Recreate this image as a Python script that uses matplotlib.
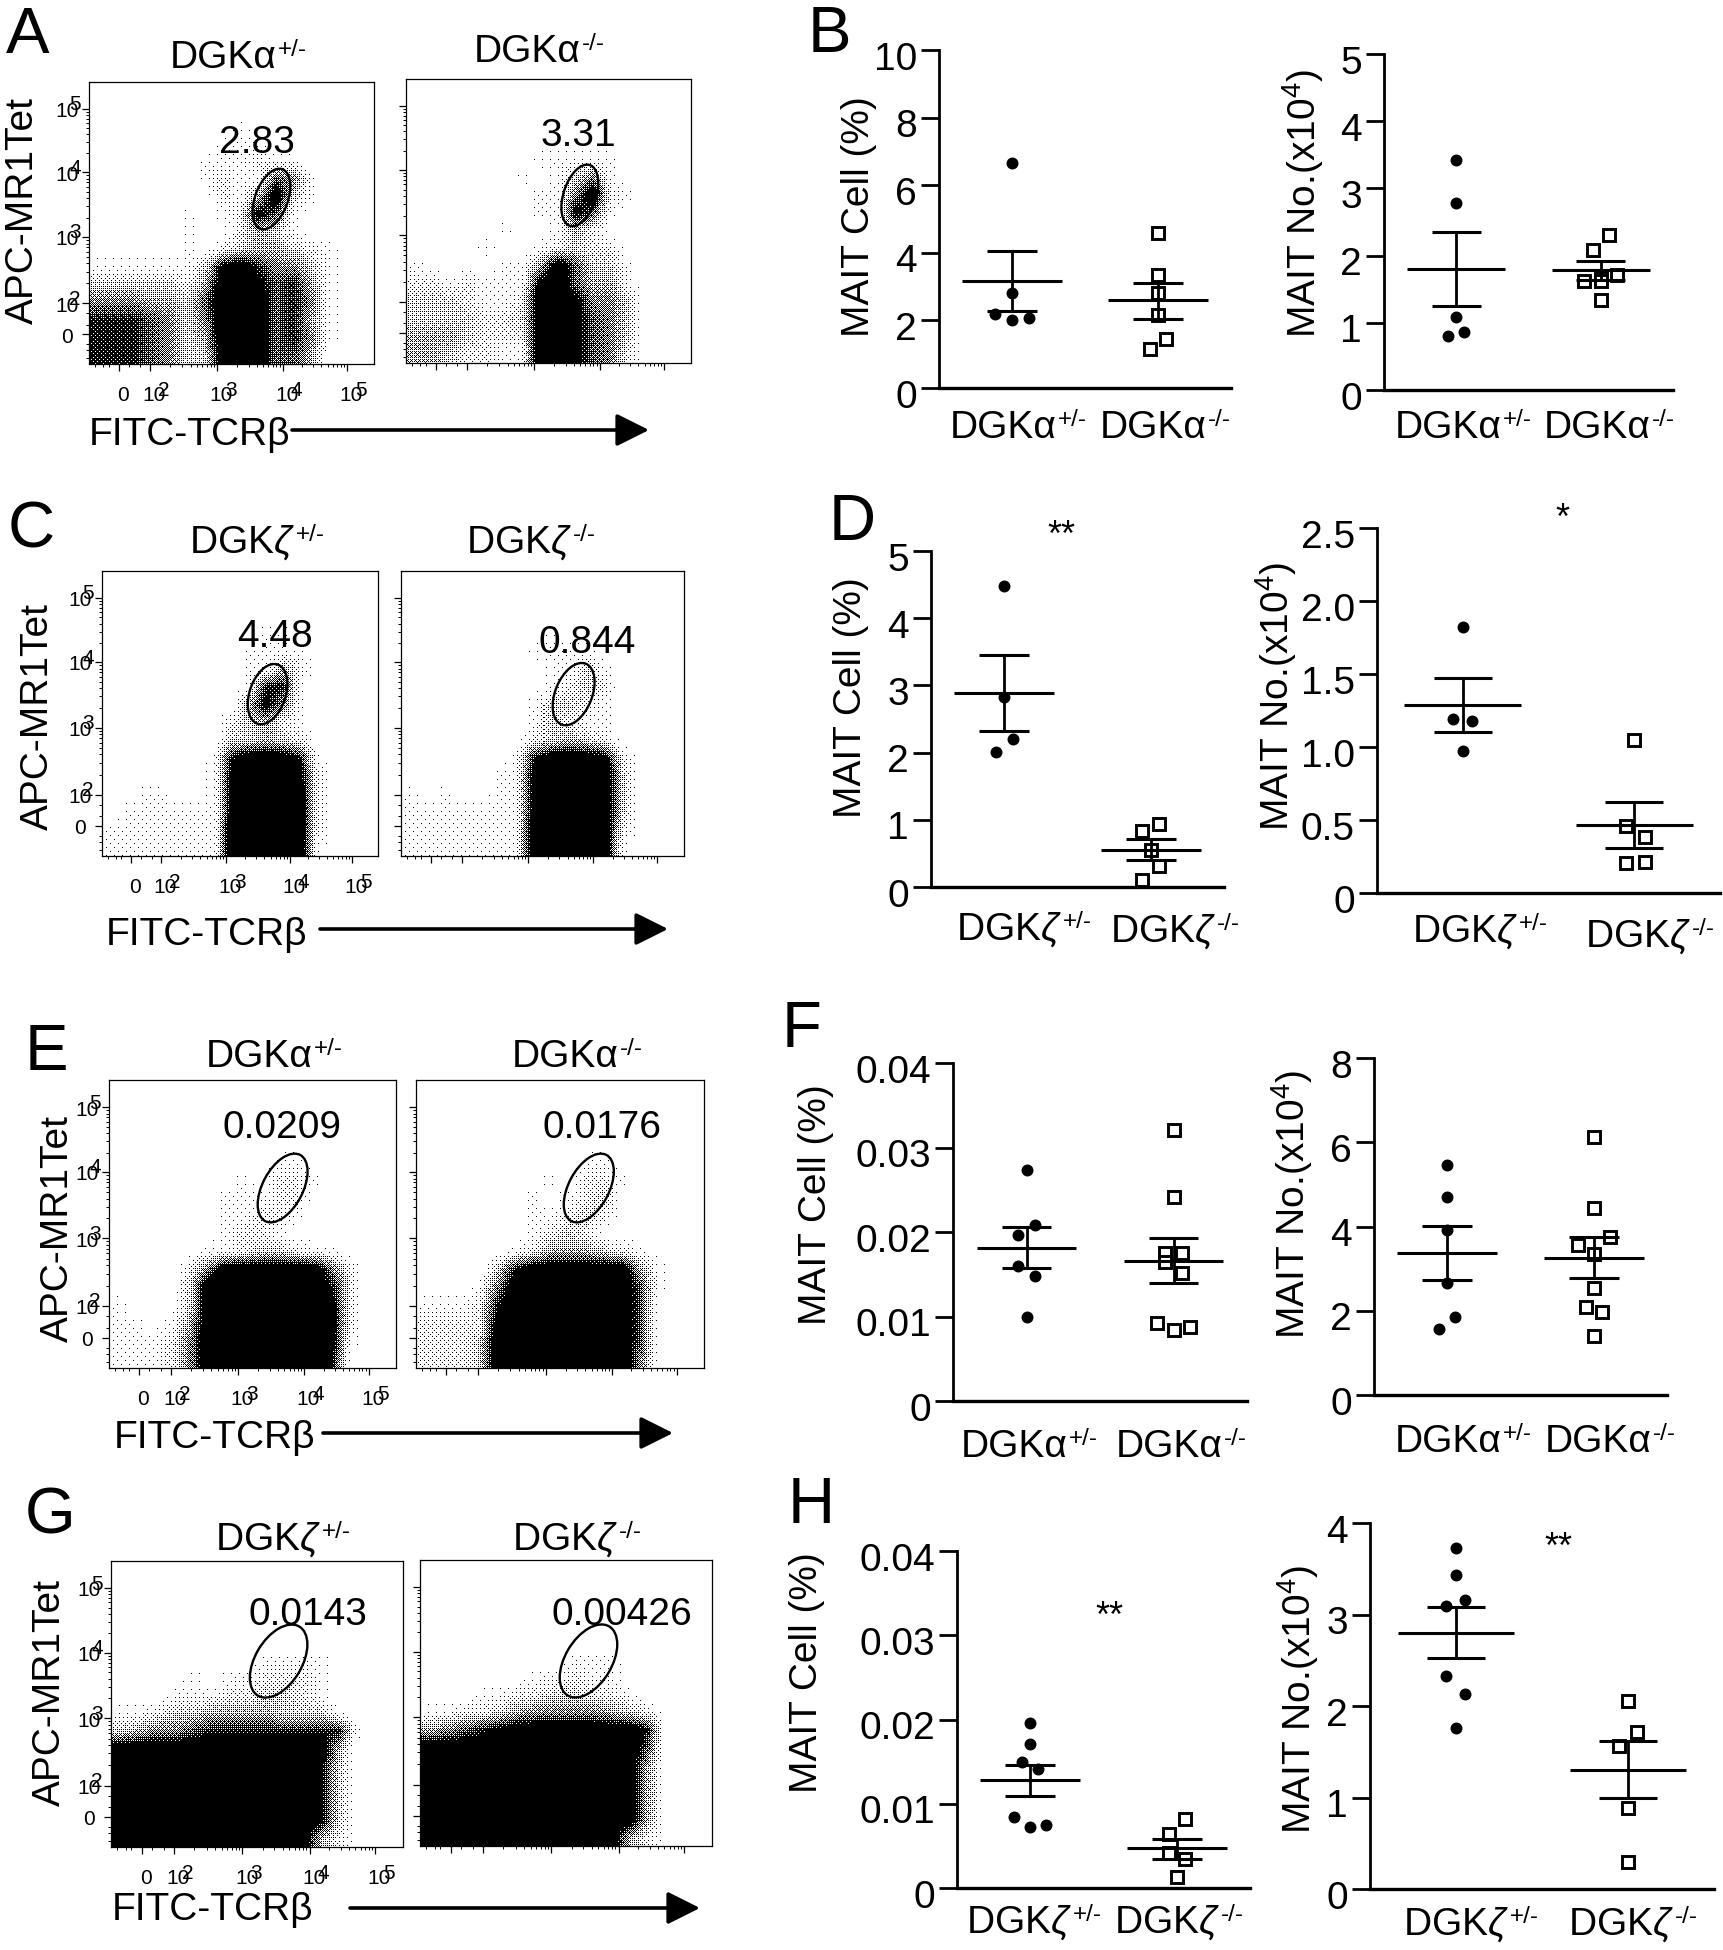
import numpy as np
import matplotlib
matplotlib.use('Agg')
import matplotlib.pyplot as plt
from matplotlib.patches import Ellipse
from matplotlib.transforms import ScaledTranslation

W, H = 1723, 1950
plt.rcParams['font.family'] = ['Liberation Sans', 'DejaVu Sans']
plt.rcParams['mathtext.fontset'] = 'custom'
plt.rcParams['mathtext.rm'] = 'Liberation Sans'
plt.rcParams['mathtext.it'] = 'Liberation Sans:italic'
plt.rcParams['mathtext.default'] = 'regular'

# dot plots
B_PCT_HET = [6.66, 2.82, 2.18, 2.0, 2.07]
B_PCT_HET_DX = [0, 0, -0.114, 0, 0.114]
B_PCT_KO = [4.6, 3.33, 2.82, 2.15, 1.45, 1.15]
B_PCT_KO_DX = [0, 0, 0, 0, 0.057, -0.057]
B_PCT_MEAN = [3.16, 2.59]
B_PCT_UPPER = [4.04, 3.1]
B_PCT_LOWER = [2.27, 2.05]

B_NO_HET = [3.42, 2.78, 1.08, 0.86, 0.81]
B_NO_HET_DX = [0, 0, 0, 0.057, -0.057]
B_NO_KO = [2.30, 2.09, 1.71, 1.66, 1.62, 1.62, 1.34]
B_NO_KO_DX = [0.057, -0.057, 0.114, 0, -0.114, 0, 0]
B_NO_MEAN = [1.80, 1.79]
B_NO_UPPER = [2.35, 1.92]
B_NO_LOWER = [1.25, 1.64]

D_PCT_HET = [4.475, 2.82, 2.2, 2.01]
D_PCT_HET_DX = [0, 0, 0.057, -0.057]
D_PCT_KO = [0.94, 0.84, 0.545, 0.31, 0.11]
D_PCT_KO_DX = [0.057, -0.057, 0, 0.057, -0.057]
D_PCT_MEAN = [2.88, 0.545]
D_PCT_UPPER = [3.45, 0.71]
D_PCT_LOWER = [2.32, 0.40]

D_NO_HET = [1.82, 1.19, 1.175, 0.97]
D_NO_HET_DX = [0, -0.055, 0.055, 0]
D_NO_KO = [1.05, 0.46, 0.385, 0.215, 0.205]
D_NO_KO_DX = [0, -0.05, 0.06, 0.06, -0.05]
D_NO_MEAN = [1.29, 0.465]
D_NO_UPPER = [1.47, 0.62]
D_NO_LOWER = [1.105, 0.31]

F_PCT_HET = [0.0273, 0.0208, 0.01965, 0.016, 0.0148, 0.00994]
F_PCT_HET_DX = [0, 0.056, -0.056, -0.056, 0.056, 0]
F_PCT_KO = [0.0321, 0.0242, 0.01755, 0.01755, 0.0165, 0.0151, 0.0092, 0.0084, 0.00875]
F_PCT_KO_DX = [0, 0, -0.056, 0.056, -0.056, 0.056, -0.11, 0, 0.11]
F_PCT_MEAN = [0.0181, 0.0166]
F_PCT_UPPER = [0.02055, 0.0193]
F_PCT_LOWER = [0.0157, 0.014]

F_NO_HET = [5.47, 4.71, 3.92, 2.67, 1.86, 1.565]
F_NO_HET_DX = [0, 0, 0, 0, 0.056, -0.056]
F_NO_KO = [6.12, 4.44, 3.75, 3.565, 3.34, 2.53, 2.10, 1.98, 1.41]
F_NO_KO_DX = [0, 0, 0.11, -0.11, 0, 0, -0.056, 0.056, 0]
F_NO_MEAN = [3.37, 3.25]
F_NO_UPPER = [4.02, 3.74]
F_NO_LOWER = [2.73, 2.77]

H_PCT_HET = [0.01957, 0.0171, 0.0149, 0.0141, 0.00846, 0.00727, 0.0075]
H_PCT_HET_DX = [0, 0, -0.056, 0.056, -0.11, 0, 0.11]
H_PCT_KO = [0.0082, 0.00636, 0.0042, 0.00344, 0.00126]
H_PCT_KO_DX = [0.056, -0.056, -0.056, 0.056, 0]
H_PCT_MEAN = [0.01277, 0.0047]
H_PCT_UPPER = [0.01462, 0.0058]
H_PCT_LOWER = [0.0109, 0.00348]

H_NO_HET = [3.73, 3.43, 3.16, 3.09, 2.33, 2.13, 1.76]
H_NO_HET_DX = [0, 0, 0.055, -0.06, -0.06, 0.055, 0]
H_NO_KO = [2.05, 1.715, 1.565, 0.89, 0.295]
H_NO_KO_DX = [0, 0.055, -0.055, 0, 0]
H_NO_MEAN = [2.80, 1.30]
H_NO_UPPER = [3.08, 1.62]
H_NO_LOWER = [2.53, 0.99]

TICKS_10 = [0, 2, 4, 6, 8, 10]
TICKS_5 = [0, 1, 2, 3, 4, 5]
TICKS_25 = [0, 0.5, 1.0, 1.5, 2.0, 2.5]
TICKS_25_LABELS = ['0', '0.5', '1.0', '1.5', '2.0', '2.5']
TICKS_8 = [0, 2, 4, 6, 8]
TICKS_4 = [0, 1, 2, 3, 4]
TICKS_FRAC = [0, 0.01, 0.02, 0.03, 0.04]
TICKS_FRAC_LABELS = ['0', '0.01', '0.02', '0.03', '0.04']

# flow plots: ink density by eye on a 16x16 grid, 0 white .. 9 solid black, top row first
A_HET_DENSITY = ['0000000000000000', '0000000000000000', '0000000010000000', '0000000111000000',
                 '0000001112110000', '0000001211651000', '0000000214931000', '0000010128610000',
                 '0000010024310000', '0000010234432100', '1111113897553100', '3333324998674100',
                 '5554436999675100', '7776535999674100', '7776534999675100', '7776533999664000']
A_KO_DENSITY = ['0000000000000000', '0000000000000000', '0000000000000000', '0000000000000000',
                '0000000111110000', '0000001013510000', '0000000115921000', '0000000118610000',
                '0000010014200000', '0000100123220000', '1000011496331000', '2212111896441000',
                '3332112998553000', '3333223998653000', '4443222998653000', '4432211998652000']
C_HET_DENSITY = ['0000000000000000', '0000000000000000', '0000000000000000', '0000000001100000',
                 '0000000011110000', '0000000011420000', '0000000017710000', '0000000048510000',
                 '0000000234210000', '0000000334320000', '0000001799971000', '0000001899982000',
                 '0011001899992000', '0111111899992000', '1111111999992000', '1111111999991000']
C_KO_DENSITY = ['0000000000000000', '0000000000000000', '0000000000000000', '0000000010000000',
                '0000000111100000', '0000000011310000', '0000000012320000', '0000000133210000',
                '0000000132110000', '0000000234320000', '0000001799982000', '0000011899993000',
                '1010011899993000', '1111111899993000', '1111111999992000', '1111111999991000']
E_HET_DENSITY = ['0000000000000000', '0000000000000000', '0000000000000000', '0000000000000000',
                 '0000000001100000', '0000000102210000', '0000001112200000', '0000001122100000',
                 '0000001221000000', '0000011233211000', '0000259999995200', '0000399999997200',
                 '1000399999998200', '1101499999998200', '1112599999998100', '1112599999997000']
E_KO_DENSITY = ['0000000000000000', '0000000000000000', '0000000000000000', '0000000000000000',
                '0000000001100000', '0000000102210000', '0000001012300000', '0000001123200000',
                '0000001232000000', '0000012444321000', '0000379999994100', '0001599999996100',
                '1112799999996000', '2222899999996000', '2223999999996000', '2223999999995000']
G_HET_DENSITY = ['0000000000000000', '0000000000000000', '0000000000000000', '0000000000000000',
                 '0000000000000000', '0000000011110000', '0000101122210000', '0001112233210000',
                 '1123344443331000', '3455677777777100', '9999999999994000', '9999999999983000',
                 '9999999999983000', '9999999999983000', '9999999999983000', '9999999999942000']
G_KO_DENSITY = ['0000000000000000', '0000000000000000', '0000000000000000', '0000000000000000',
                '0000000000000000', '0000000011100000', '0000001121100000', '0001122332210000',
                '1122345555432000', '4567899999997000', '9999999999996000', '9999999999994000',
                '9999999999994000', '9999999999994000', '9999999999994000', '9999999999942000']

FLOW_TICKS = [0.105, 0.215, 0.45, 0.68, 0.905]
FLOW_LABELS = ['0', '10', '10', '10', '10']
FLOW_EXPONENTS = ['', '2', '3', '4', '5']

fig = plt.figure(figsize=(W / 100, H / 100), dpi=100)


def px_axes(l, t, r, b):
    return fig.add_axes([l / W, 1 - b / H, (r - l) / W, (b - t) / H])


# overlay in picture pixels for the loose labels
ov = fig.add_axes([0, 0, 1, 1], zorder=10)
ov.set_xlim(0, W)
ov.set_ylim(H, 0)
ov.axis('off')


def genotype(x, y, base, sup, size=28):
    t = ov.text(x, y, base, fontsize=size, va='baseline', ha='left')
    ov.annotate(sup, xy=(1, y), xycoords=(t, 'data'), xytext=(0.5, size * 0.32), textcoords='offset points',
                fontsize=size * 0.62, va='baseline', ha='left')


def stipple(density, nx, ny):
    # density grid to black and white pixels, ordered dither so the plot reads as dots
    grid = np.array([[int(c) for c in row.ljust(16, '0')[:16]] for row in density], dtype=float)
    xs = (np.arange(nx) + 0.5) / nx * 16 - 0.5
    ys = (np.arange(ny) + 0.5) / ny * 16 - 0.5
    across = np.array([np.interp(xs, np.arange(16), row) for row in grid])
    full = np.array([np.interp(ys, np.arange(16), col) for col in across.T]).T
    b = np.array([[0]])
    for _ in range(3):
        b = np.block([[4 * b, 4 * b + 2], [4 * b + 3, 4 * b + 1]])
    thr = (b + 0.5) / 64
    thr = np.tile(thr, (ny // 8 + 1, nx // 8 + 1))[:ny, :nx]
    return (np.clip(full / 7.5, 0, 1) ** 1.8 > thr).astype(float)


def flow_panel(rect, density, gate, value, value_pos, labels=True):
    ax = px_axes(*rect)
    ink = stipple(density, rect[2] - rect[0], rect[3] - rect[1])
    ax.imshow(ink, extent=[0, 1, 0, 1], aspect='auto', cmap='gray_r', vmin=0, vmax=1, interpolation='nearest')
    ax.set_xlim(0, 1)
    ax.set_ylim(0, 1)
    ax.add_patch(Ellipse(gate[:2], gate[2], gate[3], angle=gate[4], fill=False, ec='black', lw=1.7))
    minor = [0.02, 0.05, 0.07, 0.14, 0.18]
    for a, b in zip(FLOW_TICKS[1:], FLOW_TICKS[2:]):
        minor += [a + (b - a) * np.log10(k) for k in range(2, 10)]
    for axis in (ax.xaxis, ax.yaxis):
        axis.set_ticks(FLOW_TICKS)
        axis.set_ticks(minor, minor=True)
        axis.set_ticklabels([])
    ax.tick_params(which='major', length=5, width=0.9)
    ax.tick_params(which='minor', length=2.5, width=0.7)
    for s in ax.spines.values():
        s.set_linewidth(0.9)
    if labels:
        for pos, lab, ex in zip(FLOW_TICKS, FLOW_LABELS, FLOW_EXPONENTS):
            ax.annotate(lab, xy=(pos, 0), xycoords='axes fraction', xytext=(3, -23), textcoords='offset points',
                        ha='center', va='center', fontsize=15)
            ax.annotate(lab, xy=(0, pos), xycoords='axes fraction', xytext=(-16, -2), textcoords='offset points',
                        ha='center', va='center', fontsize=15)
            if ex:
                ax.annotate(ex, xy=(pos, 0), xycoords='axes fraction', xytext=(10, -19), textcoords='offset points',
                            ha='center', va='center', fontsize=15)
                ax.annotate(ex, xy=(0, pos), xycoords='axes fraction', xytext=(-10, 3), textcoords='offset points',
                            ha='center', va='center', fontsize=15)
    ov.text(value_pos[0], value_pos[1], value, fontsize=28, ha='center', va='baseline')
    return ax


def dot_panel(rect, ticks, ticklabels, het, het_dx, ko, ko_dx, mean, upper, lower, ylabel, ylabel_pos):
    ax = px_axes(*rect)
    ax.set_xlim(0.5, 2.5)
    ax.set_ylim(ticks[0], ticks[-1])
    ax.plot(1 + np.array(het_dx), het, 'o', color='black', ms=8.6, mew=0, clip_on=False, zorder=3)
    ax.plot(2 + np.array(ko_dx), ko, 's', mfc='white', mec='black', ms=8, mew=2.1, clip_on=False, zorder=3)
    for x, m, u, d in zip([1, 2], mean, upper, lower):
        ax.vlines(x, d, u, color='black', lw=2, zorder=4)
        ax.hlines([d, u], x - 0.17, x + 0.17, color='black', lw=2.2, zorder=4)
        ax.hlines(m, x - 0.34, x + 0.34, color='black', lw=2.2, zorder=4)
    for s in ('top', 'right'):
        ax.spines[s].set_visible(False)
    ax.spines['left'].set_linewidth(2)
    ax.spines['bottom'].set_linewidth(2.4)
    ax.set_xticks([])
    ax.set_yticks(ticks)
    ax.set_yticklabels(ticklabels, fontsize=28)
    ax.tick_params(axis='y', length=13, width=2, pad=3)
    for lab in ax.get_yticklabels():
        lab.set_transform(lab.get_transform() + ScaledTranslation(0, -4 / 72, fig.dpi_scale_trans))
    ov.text(ylabel_pos[0], ylabel_pos[1], ylabel, rotation=90, fontsize=28, ha='center', va='center')
    return ax


ALPHA_HET = ('DGKα', '+/-')
ALPHA_KO = ('DGKα', '-/-')
ZETA_HET = ('DGK$\\mathit{\\zeta}$', '+/-')
ZETA_KO = ('DGK$\\mathit{\\zeta}$', '-/-')
PCT_LABEL = 'MAIT Cell (%)'
NO_LABEL = 'MAIT No.(x10$^{4}$)'

# flow plots
flow_panel((89, 82, 374, 364), A_HET_DENSITY, (0.64, 0.585, 0.115, 0.225, -20), '2.83', (257, 153))
flow_panel((406, 79, 691, 363), A_KO_DENSITY, (0.61, 0.59, 0.115, 0.225, -18), '3.31', (578, 146), labels=False)
flow_panel((102, 571, 378, 856), C_HET_DENSITY, (0.60, 0.568, 0.13, 0.22, -20), '4.48', (275, 647))
flow_panel((401, 571, 684, 856), C_KO_DENSITY, (0.61, 0.568, 0.13, 0.23, -22), '0.844', (587, 653), labels=False)
flow_panel((109, 1080, 396, 1368), E_HET_DENSITY, (0.605, 0.625, 0.14, 0.26, -28), '0.0209', (282, 1138))
flow_panel((416, 1080, 704, 1368), E_KO_DENSITY, (0.60, 0.625, 0.14, 0.26, -28), '0.0176', (602, 1138), labels=False)
flow_panel((111, 1561, 403, 1847), G_HET_DENSITY, (0.574, 0.65, 0.16, 0.28, -30), '0.0143', (308, 1625))
flow_panel((420, 1560, 712, 1846), G_KO_DENSITY, (0.577, 0.647, 0.16, 0.28, -30), '0.00426', (622, 1625), labels=False)

# dot plots
dot_panel((939, 50, 1231, 388), TICKS_10, TICKS_10, B_PCT_HET, B_PCT_HET_DX, B_PCT_KO, B_PCT_KO_DX,
          B_PCT_MEAN, B_PCT_UPPER, B_PCT_LOWER, PCT_LABEL, (859, 217))
dot_panel((1384, 54, 1673, 390), TICKS_5, TICKS_5, B_NO_HET, B_NO_HET_DX, B_NO_KO, B_NO_KO_DX,
          B_NO_MEAN, B_NO_UPPER, B_NO_LOWER, NO_LABEL, (1303, 204))
dot_panel((931, 551, 1224, 887), TICKS_5, TICKS_5, D_PCT_HET, D_PCT_HET_DX, D_PCT_KO, D_PCT_KO_DX,
          D_PCT_MEAN, D_PCT_UPPER, D_PCT_LOWER, PCT_LABEL, (851, 698))
dot_panel((1377, 528, 1720, 893), TICKS_25, TICKS_25_LABELS, D_NO_HET, D_NO_HET_DX, D_NO_KO, D_NO_KO_DX,
          D_NO_MEAN, D_NO_UPPER, D_NO_LOWER, NO_LABEL, (1276, 697))
dot_panel((953, 1063, 1247, 1401), TICKS_FRAC, TICKS_FRAC_LABELS, F_PCT_HET, F_PCT_HET_DX, F_PCT_KO, F_PCT_KO_DX,
          F_PCT_MEAN, F_PCT_UPPER, F_PCT_LOWER, PCT_LABEL, (816, 1205))
dot_panel((1374, 1058, 1667, 1395), TICKS_8, TICKS_8, F_NO_HET, F_NO_HET_DX, F_NO_KO, F_NO_KO_DX,
          F_NO_MEAN, F_NO_UPPER, F_NO_LOWER, NO_LABEL, (1292, 1205))
dot_panel((957, 1551, 1250, 1888), TICKS_FRAC, TICKS_FRAC_LABELS, H_PCT_HET, H_PCT_HET_DX, H_PCT_KO, H_PCT_KO_DX,
          H_PCT_MEAN, H_PCT_UPPER, H_PCT_LOWER, PCT_LABEL, (807, 1673))
dot_panel((1370, 1523, 1714, 1889), TICKS_4, TICKS_4, H_NO_HET, H_NO_HET_DX, H_NO_KO, H_NO_KO_DX,
          H_NO_MEAN, H_NO_UPPER, H_NO_LOWER, NO_LABEL, (1298, 1700))

# panel letters
for letter, x, y in [('A', 6, 53), ('B', 808, 52), ('C', 8, 547), ('D', 829, 540),
                     ('E', 25, 1070), ('F', 782, 1047), ('G', 25, 1533), ('H', 788, 1523)]:
    ov.text(x, y, letter, fontsize=47, va='baseline', ha='left')

# genotype labels
for (base, sup), x, y in [(ALPHA_HET, 170, 68), (ALPHA_KO, 474, 62), (ZETA_HET, 189, 553), (ZETA_KO, 466, 553),
                          (ALPHA_HET, 206, 1067), (ALPHA_KO, 512, 1067), (ZETA_HET, 215, 1550), (ZETA_KO, 512, 1550),
                          (ALPHA_HET, 950, 438), (ALPHA_KO, 1100, 438), (ALPHA_HET, 1395, 438), (ALPHA_KO, 1544, 438),
                          (ZETA_HET, 956, 940), (ZETA_KO, 1110, 942), (ZETA_HET, 1412, 942), (ZETA_KO, 1585, 947),
                          (ALPHA_HET, 961, 1457), (ALPHA_KO, 1116, 1457), (ALPHA_HET, 1395, 1452), (ALPHA_KO, 1545, 1452),
                          (ZETA_HET, 966, 1933), (ZETA_KO, 1114, 1933), (ZETA_HET, 1403, 1935), (ZETA_KO, 1568, 1935)]:
    genotype(x, y, base, sup)

# flow axis titles and arrows
for x, y in [(23, 210), (38, 717), (58, 1228), (50, 1693)]:
    ov.text(x, y, 'APC-MR1Tet', rotation=90, fontsize=28, ha='center', va='center')
for x, y, start, end, ya in [(89, 445, 292, 649, 430), (106, 945, 320, 668, 929),
                             (114, 1448, 323, 673, 1433), (112, 1920, 350, 700, 1908)]:
    ov.text(x, y, 'FITC-TCRβ', fontsize=28, va='baseline', ha='left')
    ov.annotate('', xy=(end, ya), xytext=(start, ya),
                arrowprops=dict(arrowstyle='-|>,head_length=1,head_width=0.5', mutation_scale=20, lw=2.6,
                                color='black', shrinkA=0, shrinkB=0))

# significance stars
for s, x, y in [('**', 1061, 546), ('*', 1562, 529), ('**', 1109, 1627), ('**', 1558, 1558)]:
    ov.text(x, y, s, fontsize=26, ha='center', va='baseline')

fig.savefig('out.png', dpi=100)
